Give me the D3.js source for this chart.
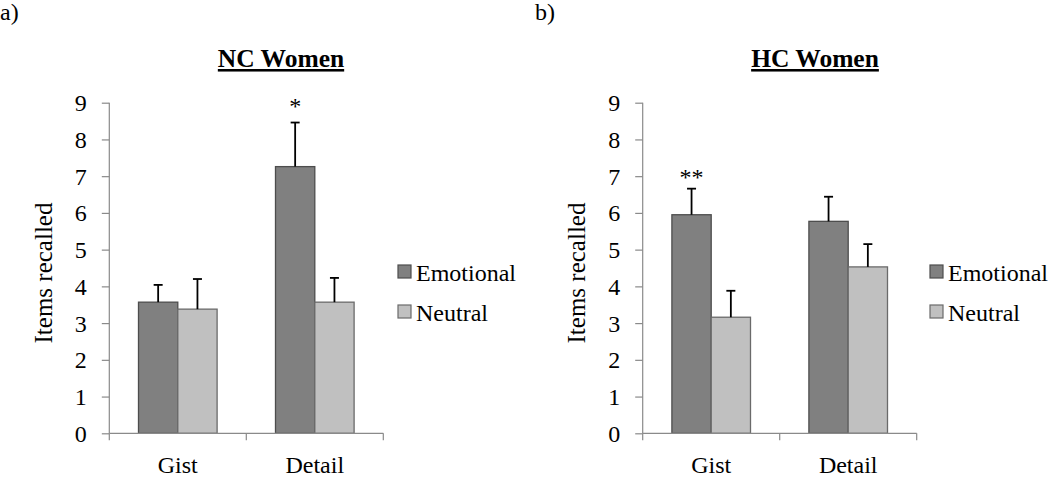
<!DOCTYPE html>
<html>
<head>
<meta charset="utf-8">
<script src="https://cdn.jsdelivr.net/npm/d3@7"></script>
<style>
  html, body { margin: 0; padding: 0; background: #fff; }
</style>
</head>
<body>
<svg id="chart" width="1050" height="478" style="display:block"></svg>
<script>
// ---- data ----
const categories = ["Gist", "Detail"];
const seriesNames = ["Emotional", "Neutral"];
const yTicks = [0, 1, 2, 3, 4, 5, 6, 7, 8, 9];

const ncMeans   = { Emotional: [3.57, 7.26], Neutral: [3.38, 3.57] };
const ncErrTop  = { Emotional: [4.04, 8.46], Neutral: [4.20, 4.23] };
const hcMeans   = { Emotional: [5.95, 5.77], Neutral: [3.16, 4.53] };
const hcErrTop  = { Emotional: [6.66, 6.44], Neutral: [3.88, 5.15] };

const ncStars = [{ cat: "Detail", series: "Emotional", text: "*",  at: 8.98 }];
const hcStars = [{ cat: "Gist",   series: "Emotional", text: "**", at: 7.07 }];

const panels = [
  { label: "a)", title: "NC Women", means: ncMeans, errs: ncErrTop, stars: ncStars },
  { label: "b)", title: "HC Women", means: hcMeans, errs: hcErrTop, stars: hcStars }
];

// ---- styling / layout ----
const FONT = '"Liberation Serif"';
const fills   = { Emotional: "#808080", Neutral: "#c0c0c0" };
const strokes = { Emotional: "#4d4d4d", Neutral: "#6a6a6a" };
const axisColor = "#8a8a8a";
const layout = [
  { axisX: 109.3, labelX: 0,   titleX: 281, legendX: 398 },
  { axisX: 642.7, labelX: 535, titleX: 815, legendX: 930 }
];
const plotW = 274, yTop = 102.7, yBot = 433.3;

const svg = d3.select("#chart");

panels.forEach((p, i) => {
  const L = layout[i];
  const g = svg.append("g");

  const y = d3.scaleLinear().domain([0, 9]).range([yBot, yTop]);
  const x0 = d3.scaleBand().domain(categories).range([L.axisX, L.axisX + plotW]).padding(0);
  const x1 = d3.scaleBand().domain(seriesNames).range([0, x0.bandwidth()])
                .paddingInner(0).paddingOuter(0.743);

  // panel label
  g.append("text").attr("x", L.labelX).attr("y", 20)
    .attr("font-size", 24).text(p.label);

  // title
  g.append("text").attr("x", L.titleX).attr("y", 67)
    .attr("text-anchor", "middle").attr("font-size", 25.5).attr("font-weight", "bold")
    .attr("text-decoration", "underline").text(p.title);

  // bars
  categories.forEach((c, ci) => {
    seriesNames.forEach(s => {
      const v = p.means[s][ci];
      const e = p.errs[s][ci];
      const bx = x0(c) + x1(s);
      g.append("rect")
        .attr("x", bx).attr("y", y(v))
        .attr("width", x1.bandwidth()).attr("height", y(0) - y(v))
        .attr("fill", fills[s]).attr("stroke", strokes[s]).attr("stroke-width", 1.3);
      const cx = bx + x1.bandwidth() / 2;
      g.append("line").attr("x1", cx).attr("x2", cx).attr("y1", y(v)).attr("y2", y(e))
        .attr("stroke", "#000").attr("stroke-width", 1.8);
      g.append("line").attr("x1", cx - 4.5).attr("x2", cx + 4.5).attr("y1", y(e)).attr("y2", y(e))
        .attr("stroke", "#000").attr("stroke-width", 1.8);
    });
  });

  // stars
  p.stars.forEach(st => {
    const cx = x0(st.cat) + x1(st.series) + x1.bandwidth() / 2;
    g.append("text").attr("x", cx).attr("y", y(st.at) + 11)
      .attr("text-anchor", "middle").attr("font-size", 24).text(st.text);
  });

  // y axis
  const yAxis = d3.axisLeft(y).tickValues(yTicks).tickSize(7.5).tickPadding(15).tickFormat(d3.format("d"));
  const ya = g.append("g").attr("transform", `translate(${L.axisX},0)`).call(yAxis);
  ya.attr("font-family", null).attr("font-size", null);
  ya.select(".domain").attr("stroke", axisColor).attr("stroke-width", 1.2).attr("d", `M0,${yTop}V${yBot}`);
  ya.selectAll(".tick line").attr("stroke", axisColor).attr("stroke-width", 1.2);
  ya.selectAll(".tick text").attr("font-size", 24).attr("fill", "#000").attr("dy", "0.33em");

  // x axis
  const xa = g.append("g").attr("transform", `translate(0,${yBot})`);
  xa.append("line").attr("x1", L.axisX).attr("x2", L.axisX + plotW).attr("y1", 0).attr("y2", 0)
    .attr("stroke", axisColor).attr("stroke-width", 1.2);
  const bounds = categories.map(c => x0(c)).concat([x0(categories[categories.length - 1]) + x0.bandwidth()]);
  xa.selectAll("line.sep").data(bounds).enter().append("line").attr("class", "sep")
    .attr("x1", d => d).attr("x2", d => d).attr("y1", 0).attr("y2", 7)
    .attr("stroke", axisColor).attr("stroke-width", 1.2);
  xa.selectAll("text.cat").data(categories).enter().append("text").attr("class", "cat")
    .attr("x", d => x0(d) + x0.bandwidth() / 2).attr("y", 40)
    .attr("text-anchor", "middle").attr("font-size", 24).text(d => d);

  // y title
  g.append("text")
    .attr("transform", `translate(${L.axisX - 57.6},${(yTop + yBot) / 2 + 5}) rotate(-90)`)
    .attr("text-anchor", "middle").attr("font-size", 25).text("Items recalled");

  // legend
  seriesNames.forEach((s, si) => {
    const ly = 265 + si * 40;
    g.append("rect").attr("x", L.legendX).attr("y", ly).attr("width", 13).attr("height", 13)
      .attr("fill", fills[s]).attr("stroke", strokes[s]).attr("stroke-width", 1.2);
    g.append("text").attr("x", L.legendX + 18).attr("y", ly + 16)
      .attr("font-size", 24).text(s);
  });
});

svg.selectAll("text").attr("font-family", "Liberation Serif").style("font-family", FONT).style("fill", "#000");
</script>
</body>
</html>
